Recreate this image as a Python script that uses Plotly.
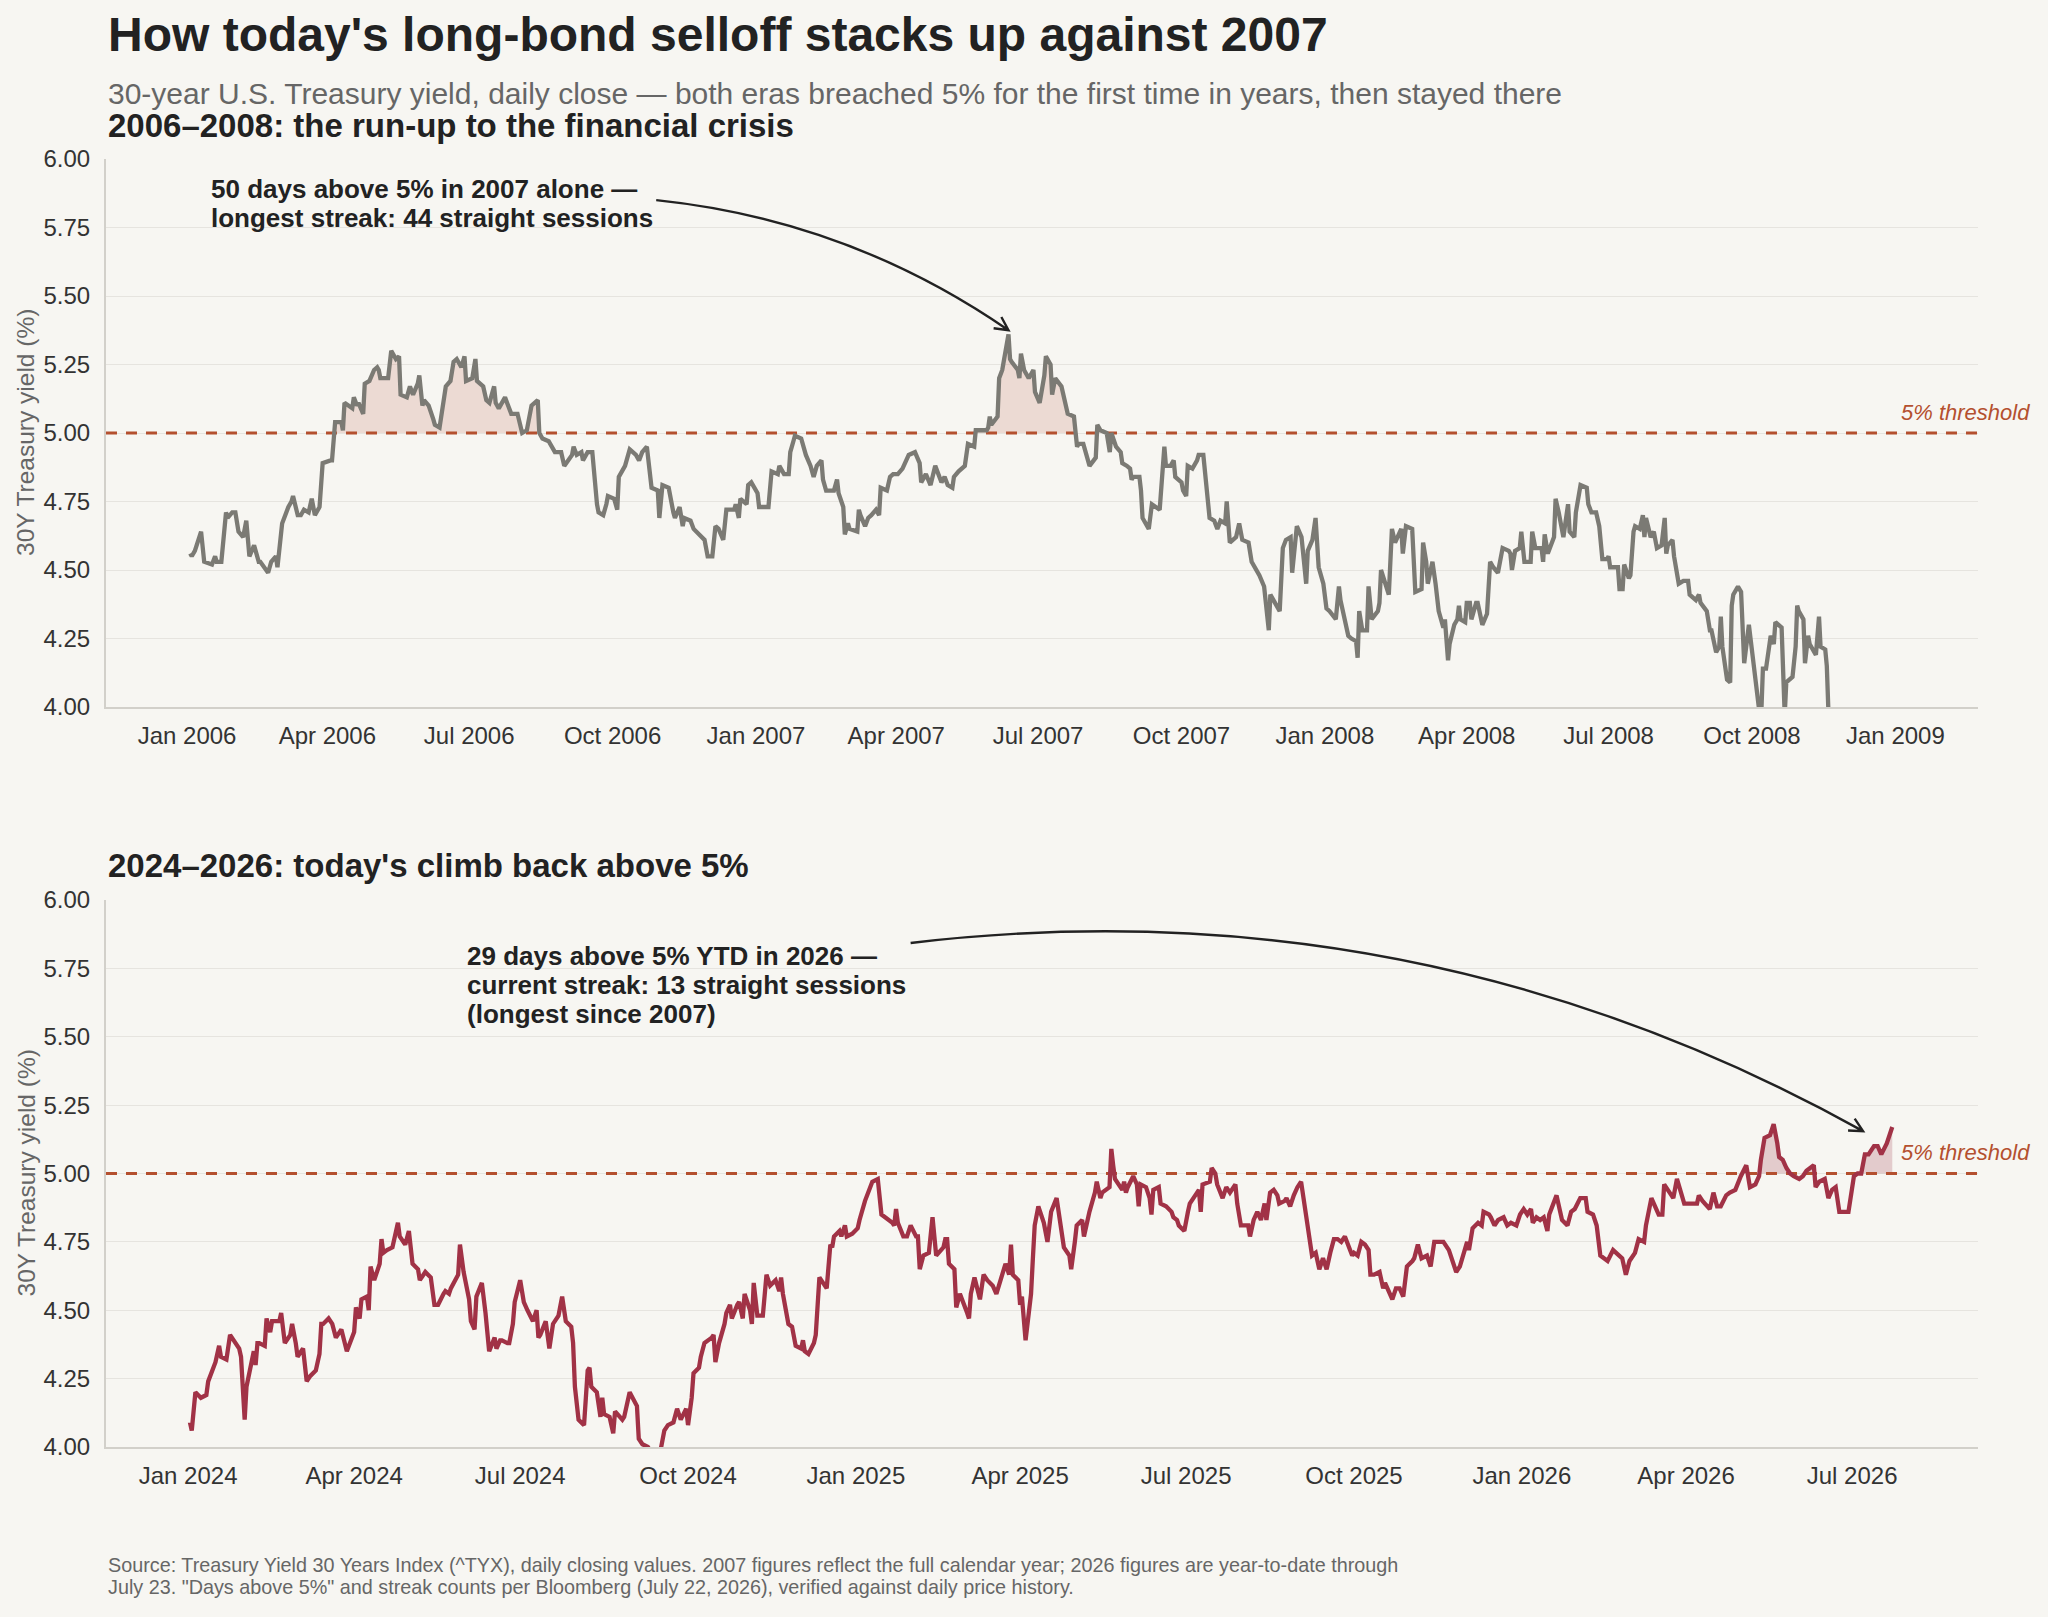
import math
import pandas as pd
import plotly.graph_objects as go

# ---------------- data (30Y Treasury yield, %) ----------------
ERA1_2006 = [
    ("2006-01-03", 4.56), ("2006-01-04", 4.55), ("2006-01-06", 4.57), ("2006-01-10", 4.64), ("2006-01-12", 4.53),
    ("2006-01-17", 4.52), ("2006-01-19", 4.55), ("2006-01-20", 4.53), ("2006-01-23", 4.53), ("2006-01-26", 4.71),
    ("2006-01-27", 4.69), ("2006-01-30", 4.71), ("2006-02-01", 4.71), ("2006-02-03", 4.64), ("2006-02-06", 4.62),
    ("2006-02-08", 4.68), ("2006-02-10", 4.55), ("2006-02-13", 4.59), ("2006-02-16", 4.53), ("2006-02-17", 4.53),
    ("2006-02-22", 4.49), ("2006-02-24", 4.53), ("2006-02-27", 4.55), ("2006-02-28", 4.51), ("2006-03-03", 4.67),
    ("2006-03-06", 4.72), ("2006-03-07", 4.73), ("2006-03-09", 4.75), ("2006-03-10", 4.77), ("2006-03-13", 4.70),
    ("2006-03-15", 4.70), ("2006-03-17", 4.72), ("2006-03-20", 4.71), ("2006-03-22", 4.76), ("2006-03-24", 4.70),
    ("2006-03-27", 4.73), ("2006-03-29", 4.89), ("2006-04-03", 4.90), ("2006-04-04", 4.90), ("2006-04-06", 5.04),
    ("2006-04-10", 5.04), ("2006-04-11", 5.01), ("2006-04-12", 5.11), ("2006-04-17", 5.09), ("2006-04-18", 5.13),
    ("2006-04-20", 5.10), ("2006-04-21", 5.11), ("2006-04-24", 5.07), ("2006-04-25", 5.18), ("2006-04-28", 5.19),
    ("2006-05-01", 5.23), ("2006-05-03", 5.24), ("2006-05-04", 5.23), ("2006-05-05", 5.20), ("2006-05-10", 5.20),
    ("2006-05-12", 5.30), ("2006-05-15", 5.27), ("2006-05-17", 5.28), ("2006-05-18", 5.14), ("2006-05-22", 5.13),
    ("2006-05-24", 5.17), ("2006-05-26", 5.14), ("2006-05-29", 5.18), ("2006-05-30", 5.21), ("2006-06-01", 5.10),
    ("2006-06-02", 5.12), ("2006-06-05", 5.10), ("2006-06-08", 5.05), ("2006-06-09", 5.03), ("2006-06-12", 5.02),
    ("2006-06-14", 5.10), ("2006-06-16", 5.17), ("2006-06-19", 5.19), ("2006-06-21", 5.26), ("2006-06-23", 5.27),
    ("2006-06-26", 5.24), ("2006-06-28", 5.28), ("2006-06-29", 5.19), ("2006-07-03", 5.20), ("2006-07-05", 5.27),
    ("2006-07-06", 5.19), ("2006-07-10", 5.17), ("2006-07-12", 5.12), ("2006-07-14", 5.11), ("2006-07-17", 5.17),
    ("2006-07-18", 5.11), ("2006-07-20", 5.09), ("2006-07-24", 5.13), ("2006-07-28", 5.07), ("2006-08-01", 5.07),
    ("2006-08-04", 5.00), ("2006-08-07", 5.01), ("2006-08-10", 5.10), ("2006-08-14", 5.12), ("2006-08-15", 5.00),
    ("2006-08-17", 4.98), ("2006-08-21", 4.97), ("2006-08-23", 4.95), ("2006-08-25", 4.93), ("2006-08-29", 4.93),
    ("2006-08-31", 4.88), ("2006-09-05", 4.92), ("2006-09-06", 4.95), ("2006-09-08", 4.92), ("2006-09-11", 4.93),
    ("2006-09-12", 4.90), ("2006-09-15", 4.93), ("2006-09-18", 4.93), ("2006-09-19", 4.86), ("2006-09-21", 4.74),
    ("2006-09-22", 4.71), ("2006-09-25", 4.70), ("2006-09-27", 4.74), ("2006-09-28", 4.77), ("2006-10-02", 4.76),
    ("2006-10-04", 4.72), ("2006-10-05", 4.84), ("2006-10-09", 4.88), ("2006-10-12", 4.94), ("2006-10-16", 4.92),
    ("2006-10-18", 4.90), ("2006-10-20", 4.93), ("2006-10-23", 4.95), ("2006-10-26", 4.80), ("2006-10-30", 4.79),
    ("2006-10-31", 4.69), ("2006-11-02", 4.81), ("2006-11-06", 4.80), ("2006-11-09", 4.71), ("2006-11-10", 4.69),
    ("2006-11-13", 4.73), ("2006-11-15", 4.66), ("2006-11-16", 4.69), ("2006-11-20", 4.68), ("2006-11-22", 4.65),
    ("2006-11-27", 4.62), ("2006-11-29", 4.61), ("2006-12-01", 4.55), ("2006-12-04", 4.55), ("2006-12-06", 4.66),
    ("2006-12-08", 4.65), ("2006-12-11", 4.61), ("2006-12-13", 4.72), ("2006-12-18", 4.72), ("2006-12-19", 4.74),
    ("2006-12-21", 4.69), ("2006-12-22", 4.76), ("2006-12-26", 4.74), ("2006-12-27", 4.81), ("2006-12-29", 4.82),
]
ERA1_2007 = [
    ("2007-01-02", 4.78), ("2007-01-03", 4.73), ("2007-01-08", 4.73), ("2007-01-09", 4.73), ("2007-01-11", 4.86),
    ("2007-01-15", 4.85), ("2007-01-16", 4.88), ("2007-01-19", 4.85), ("2007-01-22", 4.85), ("2007-01-23", 4.93),
    ("2007-01-25", 4.97), ("2007-01-26", 4.99), ("2007-01-30", 4.98), ("2007-02-01", 4.93), ("2007-02-02", 4.92),
    ("2007-02-05", 4.88), ("2007-02-07", 4.84), ("2007-02-09", 4.88), ("2007-02-12", 4.90), ("2007-02-13", 4.83),
    ("2007-02-15", 4.79), ("2007-02-20", 4.79), ("2007-02-22", 4.83), ("2007-02-23", 4.78), ("2007-02-26", 4.73),
    ("2007-02-27", 4.63), ("2007-03-01", 4.67), ("2007-03-02", 4.65), ("2007-03-07", 4.64), ("2007-03-08", 4.72),
    ("2007-03-09", 4.70), ("2007-03-12", 4.66), ("2007-03-14", 4.69), ("2007-03-16", 4.70), ("2007-03-19", 4.72),
    ("2007-03-21", 4.70), ("2007-03-22", 4.80), ("2007-03-26", 4.79), ("2007-03-28", 4.84), ("2007-03-30", 4.85),
    ("2007-04-02", 4.85), ("2007-04-05", 4.87), ("2007-04-09", 4.92), ("2007-04-13", 4.93), ("2007-04-16", 4.89),
    ("2007-04-17", 4.82), ("2007-04-20", 4.85), ("2007-04-23", 4.81), ("2007-04-26", 4.88), ("2007-04-30", 4.82),
    ("2007-05-02", 4.84), ("2007-05-04", 4.81), ("2007-05-07", 4.80), ("2007-05-08", 4.84), ("2007-05-11", 4.86),
    ("2007-05-15", 4.88), ("2007-05-17", 4.96), ("2007-05-21", 4.95), ("2007-05-22", 5.01), ("2007-05-25", 5.01),
    ("2007-05-29", 5.01), ("2007-05-30", 5.02), ("2007-05-31", 5.06), ("2007-06-01", 5.03), ("2007-06-05", 5.06),
    ("2007-06-06", 5.20), ("2007-06-08", 5.23), ("2007-06-12", 5.36), ("2007-06-13", 5.27), ("2007-06-14", 5.26),
    ("2007-06-18", 5.23), ("2007-06-19", 5.20), ("2007-06-20", 5.29), ("2007-06-22", 5.23), ("2007-06-25", 5.20),
    ("2007-06-28", 5.23), ("2007-06-29", 5.15), ("2007-07-02", 5.11), ("2007-07-05", 5.21), ("2007-07-06", 5.28),
    ("2007-07-09", 5.25), ("2007-07-10", 5.14), ("2007-07-12", 5.20), ("2007-07-16", 5.17), ("2007-07-17", 5.14),
    ("2007-07-18", 5.11), ("2007-07-20", 5.07), ("2007-07-24", 5.06), ("2007-07-26", 4.95), ("2007-07-27", 4.96),
    ("2007-07-30", 4.96), ("2007-08-03", 4.88), ("2007-08-06", 4.90), ("2007-08-07", 4.91), ("2007-08-08", 5.03),
    ("2007-08-10", 5.01), ("2007-08-14", 5.00), ("2007-08-16", 4.93), ("2007-08-17", 5.00), ("2007-08-20", 4.95),
    ("2007-08-23", 4.93), ("2007-08-24", 4.89), ("2007-08-27", 4.88), ("2007-08-29", 4.87), ("2007-08-30", 4.83),
    ("2007-08-31", 4.84), ("2007-09-04", 4.84), ("2007-09-05", 4.79), ("2007-09-06", 4.69), ("2007-09-10", 4.65),
    ("2007-09-12", 4.74), ("2007-09-14", 4.73), ("2007-09-17", 4.72), ("2007-09-20", 4.95), ("2007-09-21", 4.88),
    ("2007-09-24", 4.88), ("2007-09-26", 4.90), ("2007-09-27", 4.84), ("2007-10-01", 4.82), ("2007-10-02", 4.79),
    ("2007-10-04", 4.77), ("2007-10-05", 4.88), ("2007-10-08", 4.87), ("2007-10-11", 4.90), ("2007-10-12", 4.92),
    ("2007-10-15", 4.92), ("2007-10-17", 4.81), ("2007-10-19", 4.69), ("2007-10-22", 4.68), ("2007-10-24", 4.65),
    ("2007-10-26", 4.68), ("2007-10-29", 4.67), ("2007-10-30", 4.75), ("2007-11-01", 4.60), ("2007-11-05", 4.62),
    ("2007-11-07", 4.67), ("2007-11-09", 4.61), ("2007-11-13", 4.60), ("2007-11-15", 4.53), ("2007-11-19", 4.49),
    ("2007-11-20", 4.48), ("2007-11-23", 4.44), ("2007-11-26", 4.28), ("2007-11-27", 4.41), ("2007-11-30", 4.38),
    ("2007-12-03", 4.35), ("2007-12-05", 4.58), ("2007-12-07", 4.61), ("2007-12-10", 4.62), ("2007-12-11", 4.49),
    ("2007-12-14", 4.66), ("2007-12-17", 4.62), ("2007-12-20", 4.45), ("2007-12-21", 4.57), ("2007-12-24", 4.61),
    ("2007-12-26", 4.69), ("2007-12-28", 4.51), ("2007-12-31", 4.45),
]
ERA1_2008 = [
    ("2008-01-02", 4.36), ("2008-01-04", 4.35), ("2008-01-08", 4.32), ("2008-01-10", 4.44), ("2008-01-11", 4.39),
    ("2008-01-14", 4.30), ("2008-01-16", 4.26), ("2008-01-18", 4.25), ("2008-01-21", 4.24), ("2008-01-22", 4.18),
    ("2008-01-23", 4.35), ("2008-01-25", 4.28), ("2008-01-28", 4.28), ("2008-01-29", 4.44), ("2008-01-31", 4.32),
    ("2008-02-04", 4.35), ("2008-02-05", 4.38), ("2008-02-06", 4.50), ("2008-02-11", 4.41), ("2008-02-13", 4.65),
    ("2008-02-15", 4.60), ("2008-02-19", 4.65), ("2008-02-20", 4.56), ("2008-02-22", 4.66), ("2008-02-26", 4.65),
    ("2008-02-28", 4.42), ("2008-03-03", 4.43), ("2008-03-04", 4.60), ("2008-03-06", 4.53), ("2008-03-07", 4.45),
    ("2008-03-10", 4.53), ("2008-03-12", 4.45), ("2008-03-14", 4.35), ("2008-03-17", 4.29), ("2008-03-18", 4.32),
    ("2008-03-20", 4.17), ("2008-03-21", 4.23), ("2008-03-24", 4.30), ("2008-03-26", 4.32), ("2008-03-27", 4.37),
    ("2008-03-28", 4.32), ("2008-03-31", 4.31), ("2008-04-01", 4.38), ("2008-04-03", 4.38), ("2008-04-04", 4.32),
    ("2008-04-07", 4.38), ("2008-04-08", 4.38), ("2008-04-11", 4.30), ("2008-04-14", 4.34), ("2008-04-16", 4.53),
    ("2008-04-18", 4.51), ("2008-04-21", 4.49), ("2008-04-24", 4.58), ("2008-04-28", 4.57), ("2008-04-29", 4.56),
    ("2008-04-30", 4.50), ("2008-05-02", 4.57), ("2008-05-05", 4.58), ("2008-05-06", 4.64), ("2008-05-08", 4.53),
    ("2008-05-12", 4.53), ("2008-05-13", 4.64), ("2008-05-15", 4.58), ("2008-05-19", 4.58), ("2008-05-20", 4.53),
    ("2008-05-21", 4.63), ("2008-05-23", 4.56), ("2008-05-27", 4.62), ("2008-05-28", 4.76), ("2008-05-30", 4.71),
    ("2008-06-02", 4.62), ("2008-06-05", 4.74), ("2008-06-06", 4.64), ("2008-06-09", 4.62), ("2008-06-10", 4.71),
    ("2008-06-13", 4.81), ("2008-06-16", 4.80), ("2008-06-17", 4.80), ("2008-06-18", 4.74), ("2008-06-20", 4.71),
    ("2008-06-23", 4.71), ("2008-06-25", 4.66), ("2008-06-27", 4.54), ("2008-06-30", 4.54), ("2008-07-01", 4.55),
    ("2008-07-02", 4.51), ("2008-07-07", 4.51), ("2008-07-08", 4.43), ("2008-07-10", 4.43), ("2008-07-11", 4.52),
    ("2008-07-14", 4.47), ("2008-07-15", 4.48), ("2008-07-17", 4.64), ("2008-07-18", 4.66), ("2008-07-21", 4.65),
    ("2008-07-23", 4.70), ("2008-07-24", 4.62), ("2008-07-25", 4.69), ("2008-07-28", 4.62), ("2008-07-30", 4.64),
    ("2008-08-01", 4.58), ("2008-08-04", 4.59), ("2008-08-06", 4.69), ("2008-08-07", 4.56), ("2008-08-08", 4.59),
    ("2008-08-11", 4.61), ("2008-08-12", 4.55), ("2008-08-14", 4.48), ("2008-08-15", 4.45), ("2008-08-18", 4.46),
    ("2008-08-21", 4.46), ("2008-08-22", 4.41), ("2008-08-26", 4.39), ("2008-08-28", 4.41), ("2008-08-29", 4.38),
    ("2008-09-02", 4.35), ("2008-09-04", 4.28), ("2008-09-05", 4.28), ("2008-09-08", 4.20), ("2008-09-10", 4.22),
    ("2008-09-11", 4.33), ("2008-09-12", 4.22), ("2008-09-15", 4.10), ("2008-09-17", 4.09), ("2008-09-18", 4.37),
    ("2008-09-19", 4.41), ("2008-09-22", 4.44), ("2008-09-24", 4.42), ("2008-09-25", 4.30), ("2008-09-26", 4.16),
    ("2008-09-29", 4.30), ("2008-10-02", 4.15), ("2008-10-03", 4.08), ("2008-10-06", 3.97), ("2008-10-07", 3.98),
    ("2008-10-08", 4.14), ("2008-10-10", 4.14), ("2008-10-13", 4.26), ("2008-10-15", 4.23), ("2008-10-16", 4.31),
    ("2008-10-20", 4.29), ("2008-10-21", 4.09), ("2008-10-22", 3.97), ("2008-10-23", 4.09), ("2008-10-27", 4.11),
    ("2008-10-29", 4.22), ("2008-10-30", 4.37), ("2008-10-31", 4.35), ("2008-11-03", 4.32), ("2008-11-04", 4.16),
    ("2008-11-06", 4.26), ("2008-11-07", 4.23), ("2008-11-11", 4.19), ("2008-11-13", 4.33), ("2008-11-14", 4.22),
    ("2008-11-17", 4.21), ("2008-11-18", 4.15), ("2008-11-19", 3.99), ("2008-11-20", 3.75), ("2008-11-21", 3.80),
    ("2008-12-01", 3.25), ("2008-12-10", 3.05), ("2008-12-18", 2.60), ("2008-12-31", 2.69),
]
ERA2_2024 = [
    ("2024-01-02", 4.09), ("2024-01-03", 4.06), ("2024-01-05", 4.20), ("2024-01-08", 4.18), ("2024-01-11", 4.19),
    ("2024-01-12", 4.24), ("2024-01-16", 4.31), ("2024-01-18", 4.37), ("2024-01-19", 4.33), ("2024-01-22", 4.32),
    ("2024-01-24", 4.41), ("2024-01-26", 4.39), ("2024-01-29", 4.36), ("2024-01-30", 4.33), ("2024-01-31", 4.22),
    ("2024-02-01", 4.10), ("2024-02-02", 4.22), ("2024-02-05", 4.31), ("2024-02-06", 4.35), ("2024-02-07", 4.30),
    ("2024-02-08", 4.38), ("2024-02-09", 4.38), ("2024-02-12", 4.37), ("2024-02-13", 4.47), ("2024-02-15", 4.42),
    ("2024-02-16", 4.46), ("2024-02-20", 4.46), ("2024-02-21", 4.49), ("2024-02-23", 4.38), ("2024-02-26", 4.41),
    ("2024-02-27", 4.45), ("2024-02-29", 4.38), ("2024-03-01", 4.33), ("2024-03-04", 4.36), ("2024-03-05", 4.29),
    ("2024-03-06", 4.24), ("2024-03-08", 4.26), ("2024-03-11", 4.28), ("2024-03-13", 4.34), ("2024-03-14", 4.45),
    ("2024-03-15", 4.45), ("2024-03-18", 4.47), ("2024-03-20", 4.45), ("2024-03-22", 4.40), ("2024-03-25", 4.43),
    ("2024-03-28", 4.35), ("2024-04-01", 4.42), ("2024-04-02", 4.51), ("2024-04-04", 4.47), ("2024-04-05", 4.54),
    ("2024-04-08", 4.55), ("2024-04-09", 4.50), ("2024-04-10", 4.66), ("2024-04-12", 4.61), ("2024-04-15", 4.67),
    ("2024-04-16", 4.76), ("2024-04-17", 4.71), ("2024-04-19", 4.72), ("2024-04-22", 4.73), ("2024-04-25", 4.82),
    ("2024-04-26", 4.77), ("2024-04-29", 4.74), ("2024-05-01", 4.79), ("2024-05-03", 4.67), ("2024-05-06", 4.65),
    ("2024-05-07", 4.61), ("2024-05-10", 4.64), ("2024-05-13", 4.62), ("2024-05-15", 4.52), ("2024-05-17", 4.52),
    ("2024-05-20", 4.56), ("2024-05-21", 4.57), ("2024-05-23", 4.56), ("2024-05-24", 4.58), ("2024-05-28", 4.63),
    ("2024-05-29", 4.74), ("2024-05-31", 4.64), ("2024-06-03", 4.54), ("2024-06-04", 4.46), ("2024-06-06", 4.43),
    ("2024-06-07", 4.55), ("2024-06-10", 4.60), ("2024-06-12", 4.49), ("2024-06-14", 4.35), ("2024-06-17", 4.40),
    ("2024-06-18", 4.36), ("2024-06-20", 4.39), ("2024-06-21", 4.39), ("2024-06-24", 4.38), ("2024-06-25", 4.38),
    ("2024-06-27", 4.45), ("2024-06-28", 4.53), ("2024-07-01", 4.61), ("2024-07-03", 4.53), ("2024-07-05", 4.50),
    ("2024-07-08", 4.46), ("2024-07-10", 4.50), ("2024-07-11", 4.40), ("2024-07-12", 4.41), ("2024-07-15", 4.46),
    ("2024-07-17", 4.36), ("2024-07-19", 4.45), ("2024-07-22", 4.48), ("2024-07-24", 4.55), ("2024-07-26", 4.46),
    ("2024-07-29", 4.44), ("2024-07-30", 4.38), ("2024-07-31", 4.22), ("2024-08-02", 4.10), ("2024-08-05", 4.08),
    ("2024-08-07", 4.28), ("2024-08-08", 4.29), ("2024-08-09", 4.22), ("2024-08-12", 4.20), ("2024-08-14", 4.11),
    ("2024-08-15", 4.18), ("2024-08-16", 4.12), ("2024-08-19", 4.11), ("2024-08-21", 4.05), ("2024-08-22", 4.13),
    ("2024-08-26", 4.10), ("2024-08-27", 4.11), ("2024-08-30", 4.20), ("2024-09-03", 4.15), ("2024-09-04", 4.03),
    ("2024-09-06", 4.01), ("2024-09-09", 4.00), ("2024-09-11", 3.98), ("2024-09-13", 3.98), ("2024-09-16", 3.99),
    ("2024-09-18", 4.06), ("2024-09-20", 4.08), ("2024-09-23", 4.09), ("2024-09-25", 4.14), ("2024-09-27", 4.10),
    ("2024-09-30", 4.14), ("2024-10-01", 4.08), ("2024-10-03", 4.18), ("2024-10-04", 4.27), ("2024-10-07", 4.29),
    ("2024-10-08", 4.33), ("2024-10-10", 4.38), ("2024-10-14", 4.40), ("2024-10-15", 4.41), ("2024-10-16", 4.31),
    ("2024-10-18", 4.38), ("2024-10-21", 4.45), ("2024-10-22", 4.49), ("2024-10-24", 4.52), ("2024-10-25", 4.47),
    ("2024-10-28", 4.52), ("2024-10-29", 4.53), ("2024-10-31", 4.47), ("2024-11-01", 4.56), ("2024-11-04", 4.50),
    ("2024-11-05", 4.45), ("2024-11-06", 4.60), ("2024-11-08", 4.48), ("2024-11-11", 4.48), ("2024-11-13", 4.63),
    ("2024-11-15", 4.59), ("2024-11-18", 4.61), ("2024-11-20", 4.57), ("2024-11-21", 4.62), ("2024-11-22", 4.56),
    ("2024-11-25", 4.45), ("2024-11-27", 4.44), ("2024-11-29", 4.37), ("2024-12-02", 4.36), ("2024-12-03", 4.39),
    ("2024-12-04", 4.35), ("2024-12-06", 4.34), ("2024-12-09", 4.38), ("2024-12-10", 4.41), ("2024-12-12", 4.62),
    ("2024-12-13", 4.61), ("2024-12-16", 4.58), ("2024-12-18", 4.74), ("2024-12-19", 4.73), ("2024-12-20", 4.77),
    ("2024-12-23", 4.79), ("2024-12-24", 4.77), ("2024-12-26", 4.81), ("2024-12-27", 4.77), ("2024-12-30", 4.78),
]
ERA2_2025 = [
    ("2025-01-02", 4.80), ("2025-01-03", 4.83), ("2025-01-06", 4.90), ("2025-01-08", 4.94), ("2025-01-10", 4.97),
    ("2025-01-13", 4.98), ("2025-01-15", 4.85), ("2025-01-17", 4.84), ("2025-01-21", 4.82), ("2025-01-22", 4.81),
    ("2025-01-23", 4.87), ("2025-01-24", 4.82), ("2025-01-27", 4.77), ("2025-01-29", 4.77), ("2025-01-31", 4.81),
    ("2025-02-03", 4.77), ("2025-02-04", 4.77), ("2025-02-05", 4.65), ("2025-02-07", 4.70), ("2025-02-10", 4.71),
    ("2025-02-12", 4.84), ("2025-02-14", 4.70), ("2025-02-18", 4.73), ("2025-02-19", 4.76), ("2025-02-20", 4.76),
    ("2025-02-21", 4.67), ("2025-02-24", 4.65), ("2025-02-25", 4.51), ("2025-02-27", 4.56), ("2025-03-03", 4.49),
    ("2025-03-04", 4.47), ("2025-03-05", 4.56), ("2025-03-07", 4.62), ("2025-03-10", 4.54), ("2025-03-12", 4.63),
    ("2025-03-14", 4.61), ("2025-03-17", 4.59), ("2025-03-19", 4.56), ("2025-03-21", 4.61), ("2025-03-24", 4.67),
    ("2025-03-26", 4.63), ("2025-03-27", 4.74), ("2025-03-28", 4.63), ("2025-03-31", 4.61), ("2025-04-01", 4.52),
    ("2025-04-02", 4.55), ("2025-04-04", 4.39), ("2025-04-07", 4.56), ("2025-04-08", 4.69), ("2025-04-09", 4.81),
    ("2025-04-11", 4.88), ("2025-04-14", 4.82), ("2025-04-16", 4.75), ("2025-04-18", 4.86), ("2025-04-21", 4.91),
    ("2025-04-22", 4.86), ("2025-04-24", 4.77), ("2025-04-25", 4.73), ("2025-04-28", 4.70), ("2025-04-29", 4.65),
    ("2025-05-01", 4.75), ("2025-05-02", 4.81), ("2025-05-05", 4.83), ("2025-05-06", 4.77), ("2025-05-08", 4.83),
    ("2025-05-09", 4.86), ("2025-05-12", 4.93), ("2025-05-13", 4.97), ("2025-05-15", 4.91), ("2025-05-16", 4.93),
    ("2025-05-20", 4.95), ("2025-05-21", 5.09), ("2025-05-22", 5.03), ("2025-05-23", 4.98), ("2025-05-27", 4.94),
    ("2025-05-28", 4.97), ("2025-05-29", 4.93), ("2025-05-30", 4.95), ("2025-06-02", 4.99), ("2025-06-04", 4.96),
    ("2025-06-05", 4.88), ("2025-06-06", 4.96), ("2025-06-09", 4.95), ("2025-06-11", 4.91), ("2025-06-12", 4.85),
    ("2025-06-13", 4.94), ("2025-06-16", 4.95), ("2025-06-17", 4.89), ("2025-06-20", 4.88), ("2025-06-23", 4.86),
    ("2025-06-24", 4.84), ("2025-06-26", 4.83), ("2025-06-27", 4.81), ("2025-06-30", 4.79), ("2025-07-02", 4.86),
    ("2025-07-03", 4.89), ("2025-07-07", 4.93), ("2025-07-08", 4.94), ("2025-07-09", 4.86), ("2025-07-10", 4.96),
    ("2025-07-14", 4.97), ("2025-07-15", 5.02), ("2025-07-17", 5.00), ("2025-07-18", 4.96), ("2025-07-21", 4.91),
    ("2025-07-23", 4.95), ("2025-07-25", 4.93), ("2025-07-28", 4.96), ("2025-07-29", 4.89), ("2025-07-31", 4.81),
    ("2025-08-04", 4.81), ("2025-08-05", 4.77), ("2025-08-07", 4.83), ("2025-08-09", 4.86), ("2025-08-11", 4.83),
    ("2025-08-13", 4.89), ("2025-08-14", 4.83), ("2025-08-16", 4.93), ("2025-08-18", 4.94), ("2025-08-20", 4.92),
    ("2025-08-21", 4.89), ("2025-08-24", 4.90), ("2025-08-25", 4.91), ("2025-08-27", 4.88), ("2025-08-29", 4.92),
    ("2025-08-31", 4.95), ("2025-09-02", 4.97), ("2025-09-04", 4.88), ("2025-09-06", 4.77), ("2025-09-08", 4.70),
    ("2025-09-10", 4.71), ("2025-09-12", 4.65), ("2025-09-14", 4.69), ("2025-09-16", 4.65), ("2025-09-18", 4.71),
    ("2025-09-20", 4.76), ("2025-09-22", 4.76), ("2025-09-24", 4.75), ("2025-09-26", 4.77), ("2025-09-28", 4.73),
    ("2025-09-30", 4.70), ("2025-10-01", 4.71), ("2025-10-03", 4.70), ("2025-10-05", 4.75), ("2025-10-07", 4.74),
    ("2025-10-09", 4.72), ("2025-10-10", 4.63), ("2025-10-12", 4.63), ("2025-10-15", 4.64), ("2025-10-17", 4.58),
    ("2025-10-18", 4.60), ("2025-10-20", 4.57), ("2025-10-22", 4.54), ("2025-10-24", 4.58), ("2025-10-26", 4.58),
    ("2025-10-28", 4.55), ("2025-10-30", 4.66), ("2025-11-02", 4.68), ("2025-11-03", 4.69), ("2025-11-05", 4.74),
    ("2025-11-07", 4.69), ("2025-11-10", 4.70), ("2025-11-12", 4.66), ("2025-11-14", 4.75), ("2025-11-16", 4.75),
    ("2025-11-19", 4.75), ("2025-11-22", 4.72), ("2025-11-24", 4.68), ("2025-11-26", 4.64), ("2025-11-28", 4.66),
    ("2025-11-30", 4.71), ("2025-12-02", 4.75), ("2025-12-03", 4.72), ("2025-12-05", 4.80), ("2025-12-08", 4.82),
    ("2025-12-10", 4.81), ("2025-12-11", 4.86), ("2025-12-14", 4.85), ("2025-12-15", 4.84), ("2025-12-17", 4.81),
    ("2025-12-19", 4.83), ("2025-12-22", 4.84), ("2025-12-24", 4.81), ("2025-12-26", 4.82), ("2025-12-29", 4.81),
    ("2025-12-31", 4.85),
]
ERA2_2026 = [
    ("2026-01-02", 4.87), ("2026-01-04", 4.85), ("2026-01-06", 4.87), ("2026-01-07", 4.82), ("2026-01-09", 4.84),
    ("2026-01-11", 4.83), ("2026-01-13", 4.84), ("2026-01-15", 4.79), ("2026-01-16", 4.85), ("2026-01-18", 4.89),
    ("2026-01-20", 4.92), ("2026-01-22", 4.86), ("2026-01-23", 4.83), ("2026-01-26", 4.81), ("2026-01-28", 4.86),
    ("2026-01-30", 4.87), ("2026-02-02", 4.91), ("2026-02-05", 4.91), ("2026-02-06", 4.86), ("2026-02-09", 4.85),
    ("2026-02-11", 4.81), ("2026-02-13", 4.70), ("2026-02-15", 4.69), ("2026-02-17", 4.68), ("2026-02-20", 4.72),
    ("2026-02-23", 4.70), ("2026-02-25", 4.69), ("2026-02-27", 4.63), ("2026-03-01", 4.68), ("2026-03-04", 4.71),
    ("2026-03-06", 4.76), ("2026-03-09", 4.75), ("2026-03-10", 4.81), ("2026-03-13", 4.91), ("2026-03-15", 4.88),
    ("2026-03-17", 4.85), ("2026-03-19", 4.85), ("2026-03-20", 4.96), ("2026-03-23", 4.93), ("2026-03-25", 4.91),
    ("2026-03-27", 4.98), ("2026-03-30", 4.92), ("2026-03-31", 4.89), ("2026-04-03", 4.89), ("2026-04-07", 4.89),
    ("2026-04-08", 4.92), ("2026-04-10", 4.90), ("2026-04-14", 4.87), ("2026-04-16", 4.93), ("2026-04-18", 4.88),
    ("2026-04-20", 4.88), ("2026-04-23", 4.92), ("2026-04-25", 4.93), ("2026-04-28", 4.94), ("2026-04-30", 4.98),
    ("2026-05-01", 4.99), ("2026-05-04", 5.03), ("2026-05-06", 4.95), ("2026-05-09", 4.96), ("2026-05-11", 4.99),
    ("2026-05-12", 5.05), ("2026-05-14", 5.13), ("2026-05-17", 5.14), ("2026-05-19", 5.18), ("2026-05-21", 5.11),
    ("2026-05-22", 5.06), ("2026-05-24", 5.05), ("2026-05-26", 5.02), ("2026-05-28", 5.00), ("2026-05-30", 4.99),
    ("2026-06-02", 4.98), ("2026-06-04", 4.99), ("2026-06-06", 5.01), ("2026-06-08", 5.02), ("2026-06-10", 5.03),
    ("2026-06-11", 4.95), ("2026-06-13", 4.97), ("2026-06-16", 4.98), ("2026-06-18", 4.91), ("2026-06-20", 4.94),
    ("2026-06-22", 4.95), ("2026-06-24", 4.86), ("2026-06-28", 4.86), ("2026-06-29", 4.86), ("2026-07-02", 4.99),
    ("2026-07-04", 5.00), ("2026-07-06", 5.00), ("2026-07-08", 5.07), ("2026-07-10", 5.07), ("2026-07-12", 5.09),
    ("2026-07-13", 5.10), ("2026-07-15", 5.10), ("2026-07-17", 5.07), ("2026-07-20", 5.11), ("2026-07-23", 5.17),
]

THRESHOLD = 5.0
Y_TICKS = [4.00, 4.25, 4.50, 4.75, 5.00, 5.25, 5.50, 5.75, 6.00]

TITLE = "How today's long-bond selloff stacks up against 2007"
SUBTITLE = ("30-year U.S. Treasury yield, daily close \u2014 both eras breached 5% for the first time "
            "in years, then stayed there")
PANEL1_TITLE = "2006\u20132008: the run-up to the financial crisis"
PANEL2_TITLE = "2024\u20132026: today's climb back above 5%"
NOTE1 = ["50 days above 5% in 2007 alone \u2014", "longest streak: 44 straight sessions"]
NOTE2 = ["29 days above 5% YTD in 2026 \u2014", "current streak: 13 straight sessions",
         "(longest since 2007)"]
FOOTER = ["Source: Treasury Yield 30 Years Index (^TYX), daily closing values. 2007 figures reflect the full "
          "calendar year; 2026 figures are year-to-date through",
          "July 23. \"Days above 5%\" and streak counts per Bloomberg (July 22, 2026), verified against daily "
          "price history."]

# ---------------- layout constants ----------------
W, H = 2048, 1617
ML, MR, MT, MB = 106, 70, 159, 170
PW = W - ML - MR
PH = H - MT - MB
TOP_PX = (159, 707)      # pixel top / bottom of panel 1
BOT_PX = (900, 1447)     # pixel top / bottom of panel 2
DOM1 = [(H - MB - TOP_PX[1]) / PH, (H - MB - TOP_PX[0]) / PH]
DOM2 = [(H - MB - BOT_PX[1]) / PH, (H - MB - BOT_PX[0]) / PH]
XR1 = ["2005-11-10", "2009-02-23"]
XR2 = ["2023-11-17", "2026-09-08"]

BG = "#f7f6f2"
FONT = "Liberation Sans, Arial, Helvetica, sans-serif"
GRAY_LINE = "#7b7a74"
RED_LINE = "#a13246"
THR_COLOR = "#b4502f"
TXT = "#222222"
SUB = "#666666"


def split(pairs):
    return [pd.Timestamp(d) for d, _ in pairs], [v for _, v in pairs]


def above_fill(dates, vals, thr):
    xs, ys = [], []
    for i in range(len(vals)):
        if i > 0:
            v0, v1 = vals[i - 1], vals[i]
            if (v0 - thr) * (v1 - thr) < 0:
                f = (thr - v0) / (v1 - v0)
                tc = dates[i - 1] + (dates[i] - dates[i - 1]) * f
                xs.append(tc)
                ys.append(thr)
        xs.append(dates[i])
        ys.append(max(vals[i], thr))
    return xs, ys


d1, v1 = split(ERA1_2006 + ERA1_2007 + ERA1_2008)
d2, v2 = split(ERA2_2024 + ERA2_2025 + ERA2_2026)
d2f, v2f = split(ERA2_2026)

fig = go.Figure()

# shading above the threshold (panel 1: whole era; panel 2: 2026 only)
for dd, vv, ax, ay, col in [(d1, v1, "x", "y", "rgba(181,83,60,0.17)"),
                            (d2f, v2f, "x2", "y2", "rgba(161,50,70,0.22)")]:
    fx, fy = above_fill(dd, vv, THRESHOLD)
    fig.add_trace(go.Scatter(x=fx, y=[THRESHOLD] * len(fx), mode="lines", line=dict(width=0),
                             xaxis=ax, yaxis=ay, hoverinfo="skip", showlegend=False))
    fig.add_trace(go.Scatter(x=fx, y=fy, mode="lines", line=dict(width=0), fill="tonexty",
                             fillcolor=col, xaxis=ax, yaxis=ay, hoverinfo="skip", showlegend=False))

# 5% threshold reference lines (drawn above the gridlines, below the data lines)
for xr, ax, ay in [(XR1, "x", "y"), (XR2, "x2", "y2")]:
    fig.add_trace(go.Scatter(x=xr, y=[THRESHOLD, THRESHOLD], mode="lines",
                             line=dict(color=THR_COLOR, width=3, dash="11px,9px"),
                             xaxis=ax, yaxis=ay, hoverinfo="skip", showlegend=False))

fig.add_trace(go.Scatter(x=d1, y=v1, mode="lines", line=dict(color=GRAY_LINE, width=4.3),
                         xaxis="x", yaxis="y", showlegend=False))
fig.add_trace(go.Scatter(x=d2, y=v2, mode="lines", line=dict(color=RED_LINE, width=4.3),
                         xaxis="x2", yaxis="y2", showlegend=False))

axis_common = dict(showline=True, linecolor="#d2d0ca", linewidth=2, zeroline=False,
                   tickfont=dict(family=FONT, size=24, color="#333333"))
xcommon = dict(axis_common, type="date", showgrid=False, ticks="", dtick="M3",
               tickformat="%b %Y", ticklabelstandoff=6)
ycommon = dict(axis_common, range=[4, 6], tickvals=Y_TICKS, tickformat=".2f", showgrid=True,
               gridcolor="#e6e4df", gridwidth=1.3, ticks="", ticklabelstandoff=9)

fig.update_layout(
    width=W, height=H, paper_bgcolor=BG, plot_bgcolor=BG,
    margin=dict(l=ML, r=MR, t=MT, b=MB),
    font=dict(family=FONT, color=TXT),
    xaxis=dict(xcommon, domain=[0, 1], anchor="y", range=XR1, tick0="2006-01-01"),
    yaxis=dict(ycommon, domain=DOM1, anchor="x"),
    xaxis2=dict(xcommon, domain=[0, 1], anchor="y2", range=XR2, tick0="2024-01-01"),
    yaxis2=dict(ycommon, domain=DOM2, anchor="x2"),
    showlegend=False,
)


def ypaper(py):
    return (H - MB - py) / PH


ann = []
ann.append(dict(text="<b>" + TITLE + "</b>", x=0, y=ypaper(35), xref="paper", yref="paper",
                xanchor="left", yanchor="middle", showarrow=False, font=dict(size=48, color=TXT)))
ann.append(dict(text=SUBTITLE, x=0, y=ypaper(94), xref="paper", yref="paper",
                xanchor="left", yanchor="middle", showarrow=False, font=dict(size=30, color=SUB)))
ann.append(dict(text="<b>" + PANEL1_TITLE + "</b>", x=0, y=ypaper(126), xref="paper", yref="paper",
                xanchor="left", yanchor="middle", showarrow=False, font=dict(size=33, color=TXT)))
ann.append(dict(text="<b>" + PANEL2_TITLE + "</b>", x=0, y=ypaper(865), xref="paper", yref="paper",
                xanchor="left", yanchor="middle", showarrow=False, font=dict(size=33, color=TXT)))
for i, line in enumerate(FOOTER):
    ann.append(dict(text=line, x=0, y=ypaper(1565 + 22 * i), xref="paper", yref="paper",
                    xanchor="left", yanchor="middle", showarrow=False, font=dict(size=19.8, color=SUB)))
for dom in (DOM1, DOM2):
    ann.append(dict(text="30Y Treasury yield (%)", textangle=-90, x=(26 - ML) / PW, y=sum(dom) / 2,
                    xref="paper", yref="paper", xanchor="center", yanchor="middle", showarrow=False,
                    font=dict(size=24.5, color=SUB)))
for xr, yr in [("x", "y"), ("x2", "y2")]:
    ann.append(dict(text="<i>5% threshold</i>", x=(2032 - ML) / PW, xref="paper", y=THRESHOLD, yref=yr,
                    yshift=21, xanchor="right", yanchor="middle", showarrow=False,
                    font=dict(size=22, color=THR_COLOR)))

# note texts (one annotation per line, data-anchored)
NOTE1_POS = ("2006-01-15", [5.889, 5.785])
NOTE2_POS = ("2024-06-01", [5.795, 5.690, 5.585])
for (xd, ys), lines, xr, yr in [(NOTE1_POS, NOTE1, "x", "y"), (NOTE2_POS, NOTE2, "x2", "y2")]:
    for yv, line in zip(ys, lines):
        ann.append(dict(text="<b>" + line + "</b>", x=xd, y=yv, xref=xr, yref=yr, xanchor="left",
                        yanchor="middle", showarrow=False, font=dict(size=26, color=TXT)))
fig.update_layout(annotations=ann)


# curved arrows (quadratic Bezier in pixel space, drawn in paper coords)
def to_px(date, val, xr, px_top, px_bot):
    t0, t1 = pd.Timestamp(xr[0]), pd.Timestamp(xr[1])
    f = (pd.Timestamp(date) - t0) / (t1 - t0)
    return ML + f * PW, px_top + (6 - val) / 2 * (px_bot - px_top)


def to_paper(px, py):
    return (px - ML) / PW, (H - MB - py) / PH


def curved_arrow(p0, p2, bend, head=15, ang=27):
    (x0, y0), (x2, y2) = p0, p2
    dx, dy = x2 - x0, y2 - y0
    L = math.hypot(dx, dy)
    nx, ny = dy / L, -dx / L
    cx, cy = (x0 + x2) / 2 + nx * bend, (y0 + y2) / 2 + ny * bend
    tx, ty = x2 - cx, y2 - cy
    tl = math.hypot(tx, ty)
    tx, ty = tx / tl, ty / tl
    prongs = []
    for s in (1, -1):
        a = math.radians(ang) * s
        rx = tx * math.cos(a) - ty * math.sin(a)
        ry = tx * math.sin(a) + ty * math.cos(a)
        prongs.append((x2 - rx * head, y2 - ry * head))
    P = lambda x, y: "%.5f,%.5f" % to_paper(x, y)
    path = ("M " + P(x0, y0) + " Q " + P(cx, cy) + " " + P(x2, y2) +
            " M " + P(*prongs[0]) + " L " + P(x2, y2) + " L " + P(*prongs[1]))
    fig.add_shape(type="path", path=path, xref="paper", yref="paper",
                  line=dict(color=TXT, width=2.4), fillcolor="rgba(0,0,0,0)", layer="above")


i_peak = max(range(len(v1)), key=lambda i: v1[i] if d1[i].year == 2007 else -1)
curved_arrow(to_px("2006-10-29", 5.85, XR1, *TOP_PX),
             to_px(d1[i_peak], v1[i_peak] + 0.015, XR1, *TOP_PX), bend=48)
curved_arrow(to_px("2025-01-31", 5.843, XR2, *BOT_PX),
             to_px("2026-07-07", 5.155, XR2, *BOT_PX), bend=157)

fig.write_html("out.html")
